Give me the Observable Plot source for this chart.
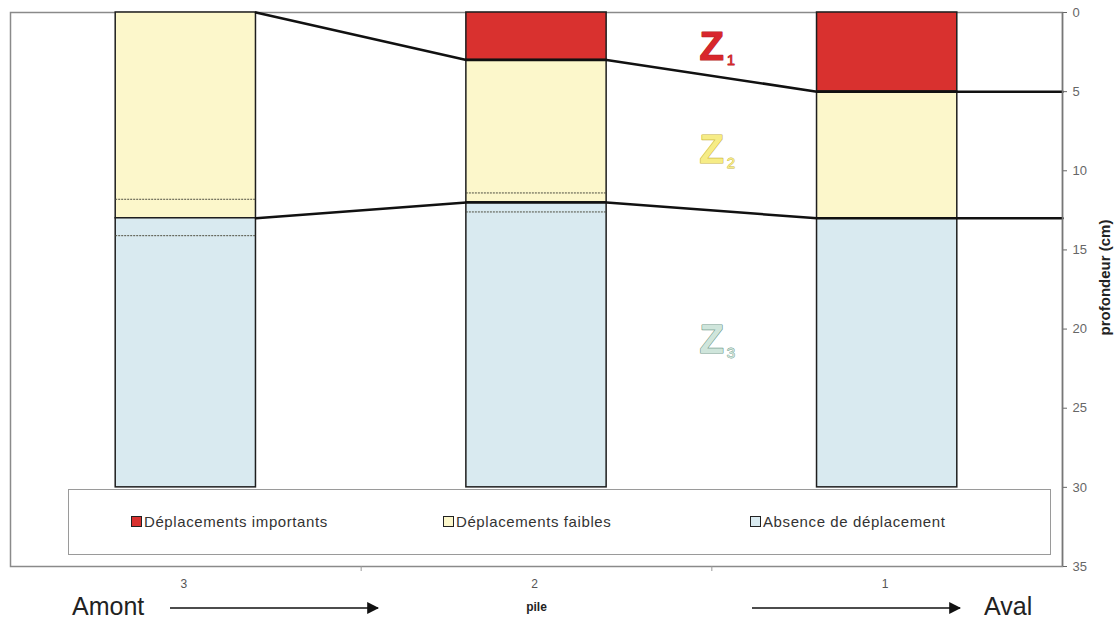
<!DOCTYPE html>
<html>
<head>
<meta charset="utf-8">
<script src="https://cdn.jsdelivr.net/npm/d3@7"></script>
<script src="https://cdn.jsdelivr.net/npm/@observablehq/plot@0.6"></script>
<style>
  html, body { margin: 0; padding: 0; background: #fff; }
  #wrap { position: relative; width: 1116px; height: 621px; font-family: "Liberation Sans", Arial, sans-serif; }
  #chart { position: absolute; left: 0; top: 0; }
  #legend { position: absolute; left: 68px; top: 489px; width: 983px; height: 66px; border: 1px solid #9a9a9a; background: #fff; box-sizing: border-box; }
  .item { position: absolute; top: 23px; font-size: 15px; letter-spacing: 0.6px; color: #333; display: flex; align-items: center; white-space: nowrap; }
  .sw { width: 9px; height: 9px; border: 1px solid #222; margin-right: 2px; }
  .dir { position: absolute; font-family: "Liberation Sans Narrow", "Liberation Sans", Arial, sans-serif; font-size: 25px; color: #222; }
  #arrows { position: absolute; left: 0; top: 0; pointer-events: none; }
</style>
</head>
<body>
<div id="wrap">
  <div id="chart"></div>
  <div id="legend"></div>
  <svg id="arrows" width="1116" height="621"></svg>
</div>
<script>
// ---- data ----
const piles = [3, 2, 1];                       // pile numbers, upstream (Amont) to downstream (Aval)
const z1Bottom = [0, 3, 5];                    // depth (cm) of Z1 / Z2 boundary
const z2Bottom = [13, 12, 13];                 // depth (cm) of Z2 / Z3 boundary
const pileBottom = [30, 30, 30];               // depth (cm) of pile base
const dashPile = [3, 3, 2, 2];                 // thin dashed marks inside bars
const dashDepth = [11.8, 14.1, 11.4, 12.6];
const yTicks = [0, 5, 10, 15, 20, 25, 30, 35];
const classes = ["Déplacements importants", "Déplacements faibles", "Absence de déplacement"];
const classColors = ["#d9312f", "#fcf7cb", "#d9eaf0"];
const zoneNames = ["Z", "Z", "Z"];
const zoneSubs = ["1", "2", "3"];
const zoneLabelX = [1.5, 1.5, 1.5];
const zoneLabelDepth = [2.2, 8.7, 20.7];
const zoneFill = ["#d8262c", "#f6ec86", "#cfe5db"];
const zoneStroke = ["#b81f28", "#c9b43e", "#6f9888"];

// ---- derived tables ----
const halfW = 0.2;
const xDomain = [3.5, 0.5];
const segments = [];
piles.forEach((p, i) => {
  const bounds = [0, z1Bottom[i], z2Bottom[i], pileBottom[i]];
  classes.forEach((c, k) => {
    if (bounds[k + 1] > bounds[k]) segments.push({pile: p, cls: c, y1: bounds[k], y2: bounds[k + 1]});
  });
});
const dashes = dashPile.map((p, i) => ({pile: p, depth: dashDepth[i]}));
function boundary(name, depths) {
  const pts = [];
  piles.forEach((p, i) => {
    if (i > 0) pts.push({b: name, x: p + halfW, y: depths[i]});
    pts.push({b: name, x: p - halfW, y: depths[i]});
  });
  pts.push({b: name, x: xDomain[1], y: depths[depths.length - 1]});
  return pts;
}
const lines = [...boundary("upper", z1Bottom), ...boundary("lower", z2Bottom)];
const zones = zoneNames.map((z, i) => ({z, sub: zoneSubs[i], x: zoneLabelX[i], y: zoneLabelDepth[i], fill: zoneFill[i], stroke: zoneStroke[i]}));

const chart = Plot.plot({
  width: 1116,
  height: 621,
  marginLeft: 10,
  marginRight: 54,
  marginTop: 12,
  marginBottom: 55,
  style: {fontFamily: "'Liberation Sans', Arial, sans-serif", background: "transparent"},
  x: {domain: xDomain, label: null},
  y: {domain: [0, 35], reverse: true, label: null},
  color: {domain: classes, range: classColors},
  marks: [
    Plot.frame({stroke: "#8a8a8a", strokeWidth: 1.5}),
    Plot.rect(segments, {x1: d => d.pile + halfW, x2: d => d.pile - halfW, y1: "y1", y2: "y2", fill: "cls", stroke: "#1e1e1e", strokeWidth: 1.5}),
    Plot.ruleY(dashes, {y: "depth", x1: d => d.pile + halfW, x2: d => d.pile - halfW, stroke: "#4f4f40", strokeWidth: 1, strokeDasharray: "2,1"}),
    Plot.line(lines, {x: "x", y: "y", z: "b", stroke: "#111", strokeWidth: 2.5}),
    Plot.text(zones, {x: "x", y: "y", text: "z", fill: d => d.fill, stroke: d => d.stroke, strokeWidth: 1.2, fontSize: 40, fontWeight: "bold", fontFamily: "'Liberation Sans', Arial, sans-serif", textAnchor: "middle"}),
    Plot.text(zones, {x: "x", y: "y", text: "sub", fill: d => d.fill, stroke: d => d.stroke, strokeWidth: 0.8, fontSize: 15, dx: 19, dy: 13, fontFamily: "'Liberation Sans', Arial, sans-serif"}),
    Plot.axisY({anchor: "right", ticks: yTicks, tickSize: 4, tickPadding: 6, fontSize: 13, color: "#666", label: null}),
    Plot.ruleX([xDomain[1]], {stroke: "#777", strokeWidth: 1.5}),
    Plot.axisX({ticks: [2.5, 1.5], tickFormat: () => "", tickSize: 5, color: "#999", label: null}),
    Plot.axisX({ticks: piles, tickSize: 0, tickPadding: 13, tickFormat: d => String(d), fontSize: 12, color: "#555", dx: -2, label: null}),
    Plot.text(["pile"], {frameAnchor: "bottom", dy: 44, fontWeight: "bold", fontSize: 12, fill: "#222"}),
    Plot.text(["profondeur (cm)"], {frameAnchor: "right", dx: 43, dy: -12, rotate: -90, textAnchor: "middle", fontWeight: "bold", fontSize: 15, fill: "#222"})
  ]
});
document.getElementById("chart").appendChild(chart);

// legend
const legend = document.getElementById("legend");
const itemLeft = [62, 374, 681];
classes.forEach((c, i) => {
  const el = document.createElement("div");
  el.className = "item";
  el.style.left = itemLeft[i] + "px";
  el.innerHTML = `<span class="sw" style="background:${classColors[i]}"></span><span>${c}</span>`;
  legend.appendChild(el);
});

// direction labels and arrows
const wrap = document.getElementById("wrap");
[["Amont", 72], ["Aval", 984]].forEach(([t, l]) => {
  const el = document.createElement("div");
  el.className = "dir";
  el.textContent = t;
  el.style.left = l + "px";
  el.style.top = "592px";
  wrap.appendChild(el);
});
const arr = d3.select("#arrows");
arr.append("defs").append("marker").attr("id", "ah").attr("viewBox", "0 0 10 10").attr("refX", 9).attr("refY", 5)
  .attr("markerWidth", 8).attr("markerHeight", 8).attr("orient", "auto")
  .append("path").attr("d", "M0,0L10,5L0,10z").attr("fill", "#111");
[[170, 378], [752, 960]].forEach(([a, b]) => {
  arr.append("line").attr("x1", a).attr("x2", b).attr("y1", 608).attr("y2", 608)
    .attr("stroke", "#111").attr("stroke-width", 1.5).attr("marker-end", "url(#ah)");
});
</script>
</body>
</html>
